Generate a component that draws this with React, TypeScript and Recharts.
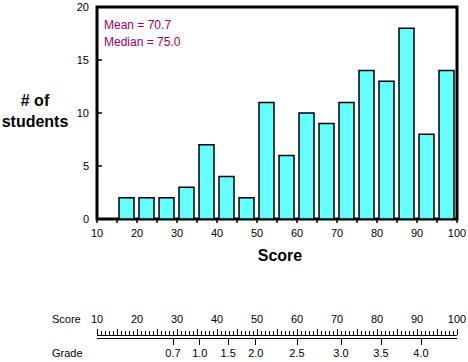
import { ComposedChart, Bar, Line, XAxis, YAxis, ReferenceArea, Label } from 'recharts'

// ============================================
// Data
// ============================================

const binStarts = [15, 20, 25, 30, 35, 40, 45, 50, 55, 60, 65, 70, 75, 80, 85, 90, 95]
const studentCounts = [2, 2, 2, 3, 7, 4, 2, 11, 6, 10, 9, 11, 14, 13, 18, 8, 14]
const binWidth = 5

const scoreTicks = [10, 15, 20, 25, 30, 35, 40, 45, 50, 55, 60, 65, 70, 75, 80, 85, 90, 95, 100]
const countTicks = [0, 5, 10, 15, 20]

// ruler: one mark per point from 10 to 100
const rulerTicks = Array.from({ length: 91 }, (_, i) => 10 + i)

const gradeScores = [29, 35.7, 42.8, 49.7, 60, 71, 81, 91]
const gradeLabels = ['0.7', '1.0', '1.5', '2.0', '2.5', '3.0', '3.5', '4.0']

const stats = ['Mean = 70.7', 'Median = 75.0']

const chartData = binStarts.map((s, i) => ({ score: s + binWidth / 2, count: studentCounts[i] }))
const gradeData = gradeScores.map((s, i) => ({ score: s, grade: gradeLabels[i], y: 0.5 }))

const FONT = '"Liberation Sans", Arial, sans-serif'

// ============================================
// Ticks
// ============================================

function ScoreTick({ x, y, payload }: any) {
  const v = payload.value
  return (
    <g>
      <line x1={x} x2={x} y1={y} y2={y + 4} stroke="#000" strokeWidth={1.5} />
      {v % 10 === 0 && (
        <text x={x} y={y + 18} textAnchor="middle" fontSize={11} fontFamily={FONT} fill="#000">
          {v}
        </text>
      )}
    </g>
  )
}

function CountTick({ x, y, payload }: any) {
  return (
    <g>
      <line x1={x} x2={x + 5} y1={y} y2={y} stroke="#000" strokeWidth={1.5} />
      <text x={x - 8} y={y + 4} textAnchor="end" fontSize={11} fontFamily={FONT} fill="#000">
        {payload.value}
      </text>
    </g>
  )
}

function RulerTick({ x, y, payload }: any) {
  const v = payload.value
  const major = v % 5 === 0
  return (
    <g>
      <line
        x1={x}
        x2={x}
        y1={y}
        y2={y - (major ? 6 : 4)}
        stroke="#000"
        strokeWidth={1}
        shapeRendering="crispEdges"
      />
      {v % 10 === 0 && (
        <text x={x} y={y - 12} textAnchor="middle" fontSize={11} fontFamily={FONT} fill="#000">
          {v}
        </text>
      )}
    </g>
  )
}

function GradeTick({ x, y, index }: any) {
  return (
    <g>
      <line x1={x} x2={x} y1={y} y2={y + 7} stroke="#000" strokeWidth={1} shapeRendering="crispEdges" />
      <text x={x} y={y + 19} textAnchor="middle" fontSize={11} fontFamily={FONT} fill="#000">
        {gradeLabels[index]}
      </text>
    </g>
  )
}

// ============================================
// App
// ============================================

export default function App() {
  return (
    <div style={{ position: 'relative', width: 468, height: 362, background: '#fff' }}>
      <style>{'body{margin:0;background:#fff}'}</style>

      {/* histogram */}
      <div style={{ position: 'absolute', left: 0, top: 0 }}>
        <ComposedChart
          width={468}
          height={300}
          data={chartData}
          margin={{ top: 7, right: 11, left: 57, bottom: 51 }}
        >
          <XAxis
            dataKey="score"
            type="number"
            domain={[10, 100]}
            allowDataOverflow
            ticks={scoreTicks}
            interval={0}
            axisLine={false}
            tickLine={false}
            tickSize={0}
            tickMargin={0}
            height={30}
            tick={<ScoreTick />}
          >
            <Label
              content={() => (
                <text x={280} y={261} textAnchor="middle" fontSize={16} fontWeight="bold" fontFamily={FONT} fill="#000">
                  Score
                </text>
              )}
            />
          </XAxis>
          <YAxis
            type="number"
            domain={[0, 20]}
            allowDataOverflow
            ticks={countTicks}
            interval={0}
            axisLine={false}
            tickLine={false}
            tickSize={0}
            tickMargin={0}
            width={40}
            tick={<CountTick />}
          >
            <Label
              content={() => (
                <text textAnchor="middle" fontSize={16} fontWeight="bold" fontFamily={FONT} fill="#000">
                  <tspan x={35} y={106}># of</tspan>
                  <tspan x={35} y={127}>students</tspan>
                </text>
              )}
            />
          </YAxis>
          <Bar
            dataKey="count"
            fill="#66ffff"
            stroke="#000"
            strokeWidth={1.5}
            barSize={15}
            isAnimationActive={false}
          />
          <ReferenceArea x1={10} x2={100} y1={0} y2={20} fill="none" stroke="#000" strokeWidth={3} ifOverflow="visible">
            <Label
              content={() => (
                <text fontSize={12} fontFamily={FONT} fill="#990066">
                  <tspan x={104} y={29}>{stats[0]}</tspan>
                  <tspan x={104} y={46}>{stats[1]}</tspan>
                </text>
              )}
            />
          </ReferenceArea>
        </ComposedChart>
      </div>

      {/* score / grade ruler */}
      <div style={{ position: 'absolute', left: 0, top: 300 }}>
        <ComposedChart
          width={468}
          height={62}
          data={gradeData}
          margin={{ top: 34, right: 11, left: 97, bottom: 23 }}
        >
          <YAxis yAxisId="r" hide type="number" domain={[0, 1]} allowDataOverflow />
          <XAxis
            xAxisId="score"
            orientation="top"
            dataKey="score"
            type="number"
            domain={[10, 100]}
            allowDataOverflow
            ticks={rulerTicks}
            interval={0}
            height={1}
            tickLine={false}
            tickSize={0}
            tickMargin={0}
            axisLine={{ stroke: '#000', strokeWidth: 1, shapeRendering: 'crispEdges' }}
            tick={<RulerTick />}
          >
            <Label
              content={() => (
                <text x={52} y={23} fontSize={11} fontFamily={FONT} fill="#000">
                  Score
                </text>
              )}
            />
          </XAxis>
          <XAxis
            xAxisId="grade"
            orientation="bottom"
            dataKey="score"
            type="number"
            domain={[10, 100]}
            allowDataOverflow
            ticks={gradeScores}
            interval={0}
            height={1}
            tickLine={false}
            tickSize={0}
            tickMargin={0}
            axisLine={{ stroke: '#000', strokeWidth: 1, shapeRendering: 'crispEdges' }}
            tick={<GradeTick />}
          >
            <Label
              content={() => (
                <text x={52} y={57} fontSize={11} fontFamily={FONT} fill="#000">
                  Grade
                </text>
              )}
            />
          </XAxis>
          <Line xAxisId="score" yAxisId="r" dataKey="y" stroke="none" dot={false} activeDot={false} isAnimationActive={false} />
          <Line xAxisId="grade" yAxisId="r" dataKey="y" stroke="none" dot={false} activeDot={false} isAnimationActive={false} />
        </ComposedChart>
      </div>
    </div>
  )
}
